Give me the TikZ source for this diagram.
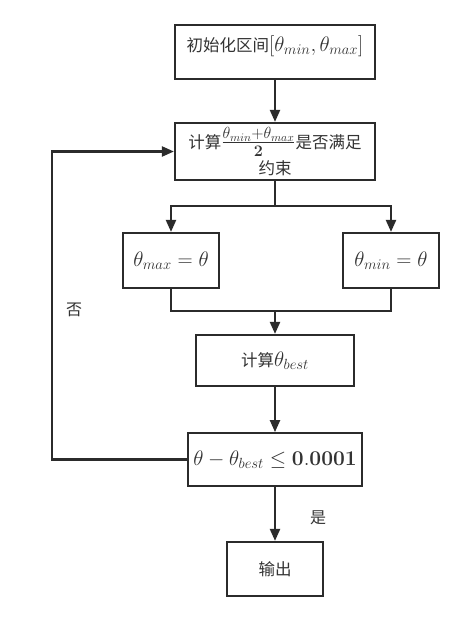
\RequirePackage{fix-cm}
\documentclass[tikz,border=0pt]{standalone}
\usepackage{amsmath}
\usepackage[no-math]{fontspec}
\newfontfamily\cjk{Noto Sans CJK SC}
\usetikzlibrary{arrows.meta}
\definecolor{lc}{HTML}{2B2B2B}
\definecolor{tc}{HTML}{333333}
\newcommand\Mth[1]{{\fontsize{21}{25}\selectfont$#1$}}
\newcommand\Mfr[1]{{\fontsize{23}{27}\selectfont$#1$}}
\tikzset{
  box/.style={draw=lc, line width=2.2pt, fill=white, inner sep=0pt, text=tc, font=\cjk\fontsize{16.5}{20}\selectfont},
  arr/.style={-{Triangle[length=12pt,width=10pt]}, line width=2.2pt, draw=lc},
  ln/.style={line width=2.2pt, draw=lc},
  lbl/.style={text=tc, font=\cjk\fontsize{16}{19}\selectfont, inner sep=0pt},
}
\begin{document}
\begin{tikzpicture}[x=1pt,y=-1pt]
\useasboundingbox (0,0) rectangle (464,621);
\fill[white] (0,0) rectangle (464,621);
\node[box, minimum width=200pt, minimum height=54pt] (b1) at (275,52) {};
\node[lbl, font=\cjk\fontsize{16.5}{20}\selectfont] (t1) at (275,46) {初始化区间\Mth{[\theta_{min},\theta_{max}]}};
\node[box, minimum width=200pt, minimum height=57pt, align=center] (b2) at (275,151.5) {计算\Mfr{\frac{\theta_{min}+\theta_{max}}{\mathbf{2}}}是否满足\\[3pt]约束};
\node[box, minimum width=96pt, minimum height=55pt] (b3) at (171,260.5) {\Mth{\theta_{max}=\theta}};
\node[box, minimum width=96pt, minimum height=55pt] (b4) at (391,260.5) {\Mth{\theta_{min}=\theta}};
\node[box, minimum width=158pt, minimum height=51pt] (b5) at (275,360.5) {计算\Mth{\theta_{best}}};
\node[box, minimum width=174pt, minimum height=53pt, line width=1.8pt] (b6) at (275,459.5) {\Mth{\theta-\theta_{best}\leq\mathbf{0.0001}}};
\node[box, minimum width=96pt, minimum height=54pt] (b7) at (275,569) {输出};
\node[lbl] (no) at (74,310) {否};
\node[lbl] (yes) at (318,518) {是};
\coordinate (sp) at (275,206);
\coordinate (sl) at (171,206);
\coordinate (sr) at (391,206);
\coordinate (ml) at (171,311);
\coordinate (mr) at (391,311);
\coordinate (mc) at (275,311);
\coordinate (lb) at (52,459.5);
\coordinate (lt) at (52,151.5);
\draw[arr] (b1.south) -- (b2.north);
\draw[ln] (b2.south) -- (sp);
\draw[ln, line cap=rect] (sl) -- (sr);
\draw[arr] (sl) -- (b3.north);
\draw[arr] (sr) -- (b4.north);
\draw[ln] (b3.south) -- (ml) -- (mr) -- (b4.south);
\draw[arr] (mc) -- (b5.north);
\draw[arr] (b5.south) -- (b6.north);
\draw[arr] (b6.south) -- (b7.north);
\draw[arr] (b6.west) -- (lb) -- (lt) -- (b2.west);
\end{tikzpicture}
\end{document}
